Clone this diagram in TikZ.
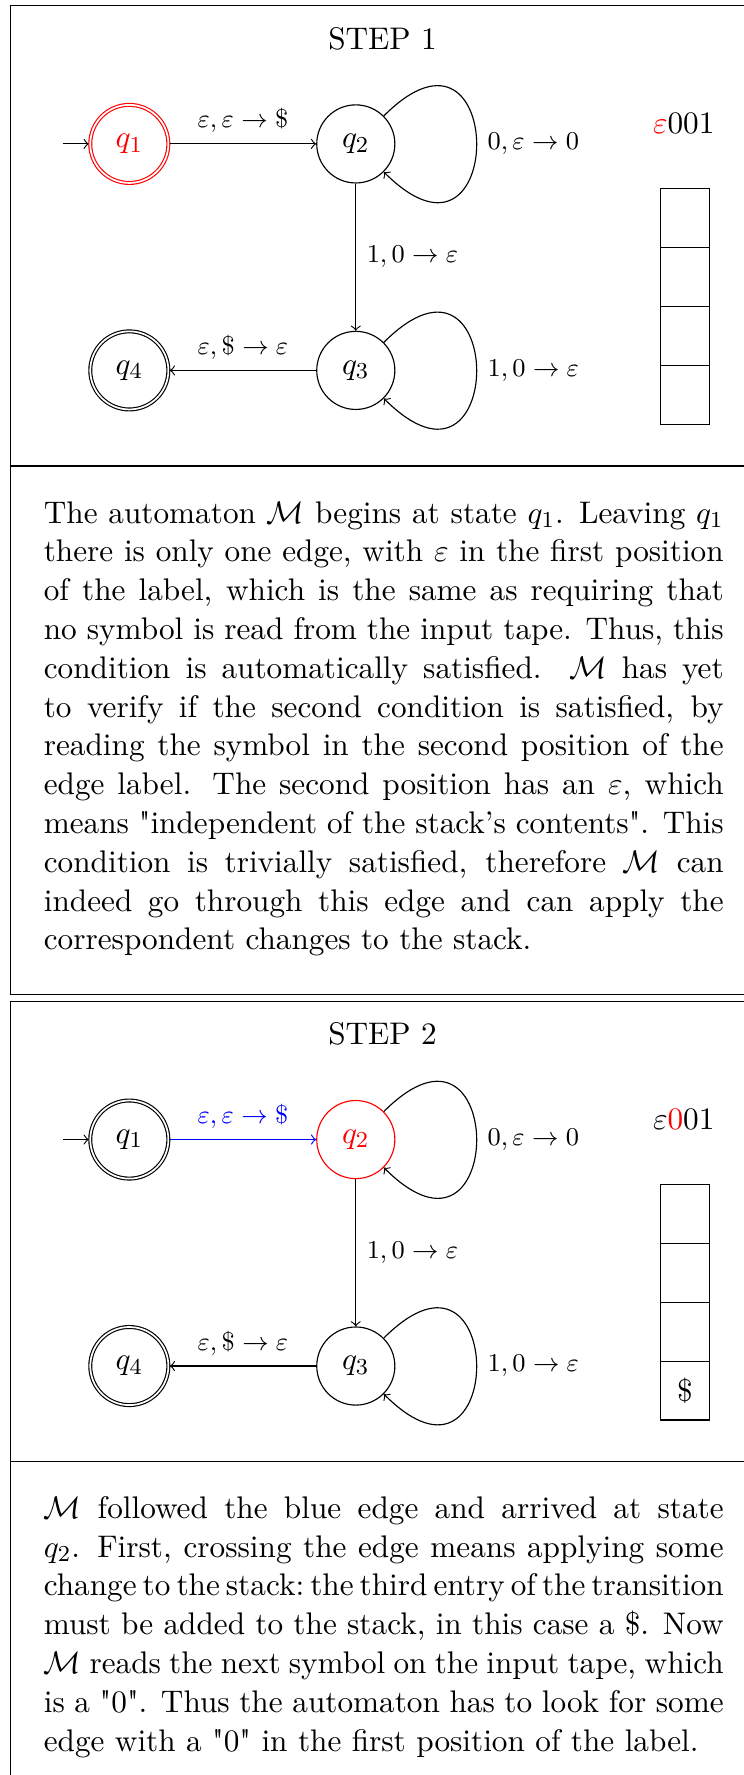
\documentclass[11pt,tikz,border=0pt]{standalone}
\usetikzlibrary{automata,positioning}

\begin{document}
\begin{tikzpicture}[node distance=2.79cm,on grid,>=to,
  every state/.style={minimum size=2.5em,inner sep=0pt},
  initial distance=9pt,
  lab/.style={font=\footnotesize},
  arr/.style={->},
  cell/.style={draw,minimum width=0.602cm,minimum height=0.7256cm,inner sep=0pt,outer sep=0pt},
  para/.style={anchor=north west,text width=238.3pt,align=justify,inner sep=0pt}]
\useasboundingbox (0,0) rectangle (9.165,-21.866);
\clip (0,0) rectangle (9.165,-21.866);
\draw (0.129,-0.070) rectangle (9.313,-12.249);
\draw (0.129,-5.741) -- (9.313,-5.741);
\draw (0.129,-12.340) rectangle (9.313,-22.11);
\draw (0.129,-18.007) -- (9.313,-18.007);
\begin{scope}[name prefix=one-]
\node[anchor=base] (title) at (4.712,-0.607) {STEP 1};
\node[state,initial,initial text={},accepting,draw=red,text=red] (q1) at (1.593,-1.773) {$q_1$};
\node[state,right=of q1] (q2) {$q_2$};
\node[state,below=of q2] (q3) {$q_3$};
\node[state,accepting,left=of q3] (q4) {$q_4$};
\draw[arr] (q1) -- node[lab,above] {$\varepsilon,\varepsilon\to\$$} (q2);
\draw[arr] (q2) -- node[lab,right] {$1,0\to\varepsilon$} (q3);
\draw[arr] (q3) -- node[lab,above] {$\varepsilon,\$\to\varepsilon$} (q4);
\draw[arr] (q2.45) .. controls +(45:2.155) and +(-45:2.155) .. node[lab,right] {$0,\varepsilon\to0$} (q2.-45);
\draw[arr] (q3.45) .. controls +(45:2.155) and +(-45:2.155) .. node[lab,right] {$1,0\to\varepsilon$} (q3.-45);
\node (tape) at (8.423,-1.519) {$\textcolor{red}{\varepsilon}001$};
\foreach \i in {1,...,4} \node[cell] (c\i) at (8.439,{-2.325-0.7256*(\i-0.5)}) {};
\node[para] (text) at (0.533,-6.17) {\tolerance=10000\hyphenpenalty=10000
The automaton $\mathcal{M}$ begins at state $q_1$. Leaving $q_1$\linebreak
there is only one edge, with $\varepsilon$ in the first position\linebreak
of the label, which is the same as requiring that\linebreak
no symbol is read from the input tape. Thus, this\linebreak
condition is automatically satisfied. $\mathcal{M}$ has yet\linebreak
to verify if the second condition is satisfied, by\linebreak
reading the symbol in the second position of the\linebreak
edge label. The second position has an $\varepsilon$, which\linebreak
means \textquotedbl independent of the stack's contents\textquotedbl. This\linebreak
condition is trivially satisfied, therefore $\mathcal{M}$ can\linebreak
indeed go through this edge and can apply the\linebreak
correspondent changes to the stack.};
\end{scope}
\begin{scope}[yshift=-12.265cm,name prefix=two-]
\node[anchor=base] (title) at (4.712,-0.607) {STEP 2};
\node[state,initial,initial text={},accepting] (q1) at (1.593,-1.773) {$q_1$};
\node[state,right=of q1,draw=red,text=red] (q2) {$q_2$};
\node[state,below=of q2] (q3) {$q_3$};
\node[state,accepting,left=of q3] (q4) {$q_4$};
\draw[arr,blue] (q1) -- node[lab,above] {$\varepsilon,\varepsilon\to\$$} (q2);
\draw[arr] (q2) -- node[lab,right] {$1,0\to\varepsilon$} (q3);
\draw[arr] (q3) -- node[lab,above] {$\varepsilon,\$\to\varepsilon$} (q4);
\draw[arr] (q2.45) .. controls +(45:2.155) and +(-45:2.155) .. node[lab,right] {$0,\varepsilon\to0$} (q2.-45);
\draw[arr] (q3.45) .. controls +(45:2.155) and +(-45:2.155) .. node[lab,right] {$1,0\to\varepsilon$} (q3.-45);
\node (tape) at (8.423,-1.519) {$\varepsilon\textcolor{red}{0}01$};
\foreach \i in {1,...,3} \node[cell] (c\i) at (8.439,{-2.325-0.7256*(\i-0.5)}) {};
\node[cell] (c4) at (8.439,{-2.325-0.7256*3.5}) {\$};
\node[para] (text) at (0.533,-6.160) {\tolerance=10000\hyphenpenalty=10000
$\mathcal{M}$ followed the blue edge and arrived at state\linebreak
$q_2$. First, crossing the edge means applying some\linebreak
{\spaceskip=1.8pt plus 2pt minus 0.3pt\xspaceskip=\spaceskip change to the stack: the third entry of the transition}\linebreak
must be added to the stack, in this case a \$. Now\linebreak
$\mathcal{M}$ reads the next symbol on the input tape, which\linebreak
is a \textquotedbl 0\textquotedbl. Thus the automaton has to look for some\linebreak
edge with a \textquotedbl 0\textquotedbl{} in the first position of the label.};
\end{scope}
\end{tikzpicture}
\end{document}
